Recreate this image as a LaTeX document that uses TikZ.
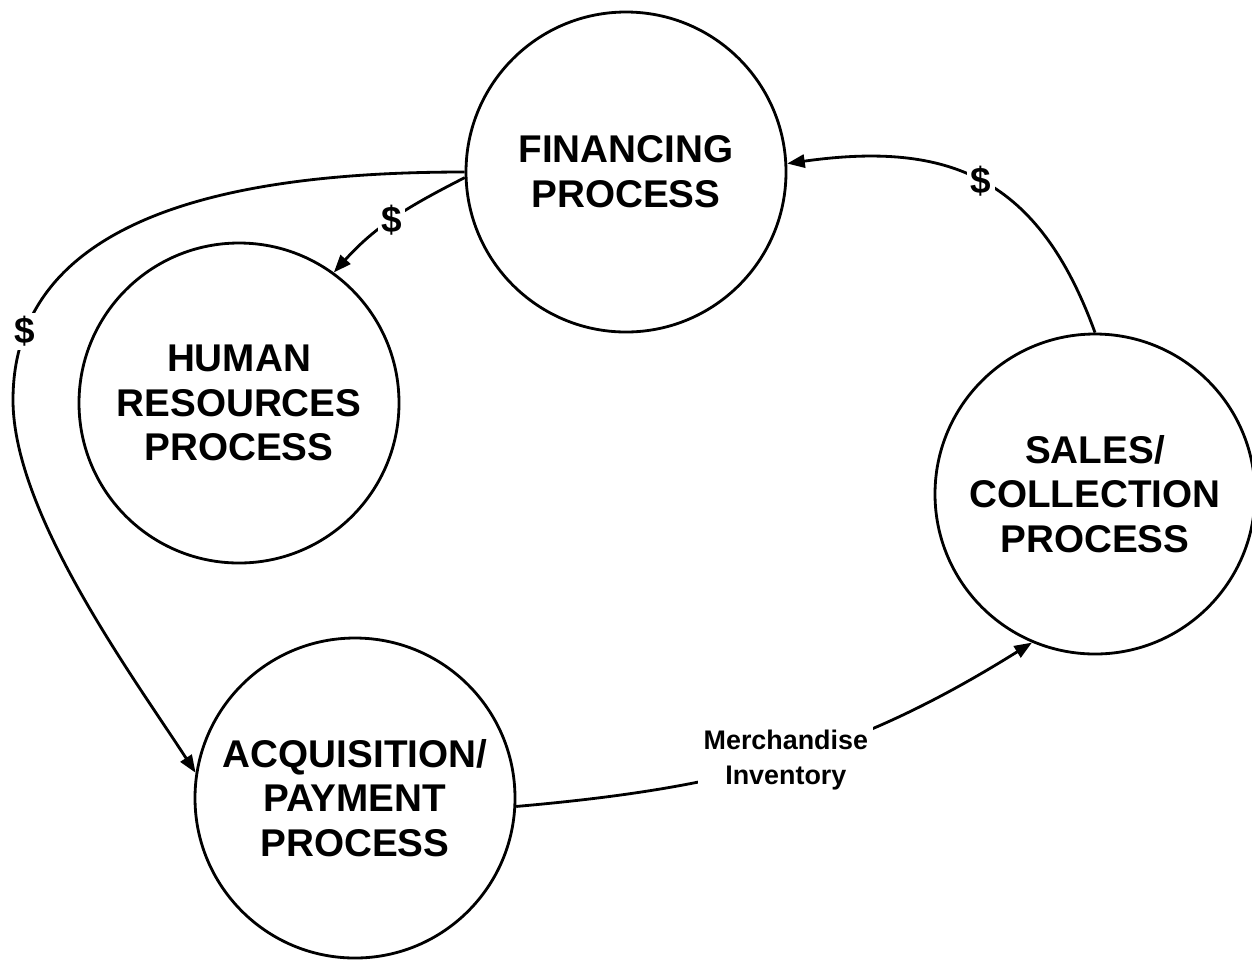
\documentclass[tikz,border=0pt]{standalone}
\usepackage{fontspec}
\setmainfont{Liberation Sans}
\usetikzlibrary{arrows.meta}

\begin{document}
\begin{tikzpicture}[x=0.2mm,y=0.2mm]
\tikzstyle{every node}+=[inner sep=0pt]
\tikzstyle{proc}=[draw, circle, line width=1.6pt, minimum size=6.4cm, align=center, font=\fontsize{22pt}{25.5pt}\selectfont\bfseries]
\tikzstyle{flow}=[line width=1.6pt, -{Triangle[length=10pt,width=7.5pt]}]
\tikzstyle{cash}=[fill=white, inner sep=2pt, font=\fontsize{21pt}{23pt}\selectfont\bfseries]
\tikzstyle{goods}=[fill=white, inner sep=3pt, align=center, font=\fontsize{15.3pt}{19.8pt}\selectfont\bfseries]
\useasboundingbox (0,0) rectangle (1252,-959);
% the four processes
\node [proc] (fin) at (626,-172) {FINANCING\\PROCESS};
\node [proc] (hr) at (239,-403) {HUMAN\\RESOURCES\\PROCESS};
\node [proc] (sal) at (1095,-494) {SALES/\\COLLECTION\\PROCESS};
\node [proc] (acq) at (355,-798) {ACQUISITION/\\PAYMENT\\PROCESS};
% money and goods
\draw [flow] (fin.182) to[out=207,in=48] node[cash, pos=0.52] {\$} (hr.54);
\draw [flow] (fin.180) to[out=180,in=90] node[cash, pos=0.87] {\$} (13,-400)
  to[out=-90,in=123,looseness=0.7] (acq.171);
\draw [flow] (sal.90) to[out=110,in=8,looseness=1.2] node[cash, pos=0.5] {\$} (fin.3);
\draw [flow] (acq.357) to[out=5,in=212] node[goods, pos=0.5] {Merchandise\\Inventory} (sal.247);
\end{tikzpicture}
\end{document}
